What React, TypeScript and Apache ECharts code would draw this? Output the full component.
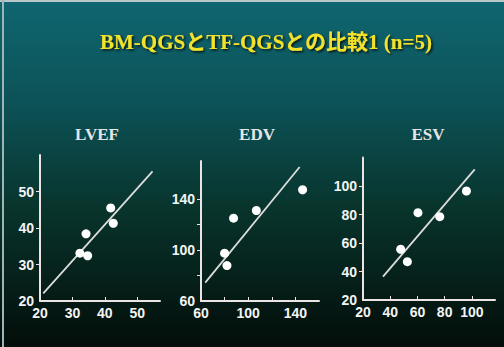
import React, { useEffect, useRef } from "react";
import * as echarts from "echarts";

const mainTitle = "BM-QGSとTF-QGSとの比較1 (n=5)";
const panelTitles = ["LVEF", "EDV", "ESV"];

// LVEF
const lvefX = [41.8, 42.6, 34.2, 32.3, 34.7];
const lvefY = [45.5, 41.3, 38.4, 33.1, 32.4];
const lvefLineX = [21, 54.7];
const lvefLineY = [22.1, 55.5];
const lvefXLabels = [20, 30, 40, 50];
const lvefXTicks = [30, 40, 50];
const lvefYLabels = [20, 30, 40, 50];
const lvefYTicks = [30, 40, 50];

// EDV
const edvX = [87.6, 106.9, 146.1, 80.0, 82.0];
const edvY = [125.1, 131.1, 147.4, 97.6, 87.8];
const edvLineX = [63.6, 143.6];
const edvLineY = [74.4, 165.3];
const edvXLabels = [60, 100, 140];
const edvXTicks = [80, 100, 120, 140];
const edvYLabels = [60, 100, 140];
const edvYTicks = [80, 100, 120, 140];

// ESV
const esvX = [60.4, 47.7, 52.6, 76.4, 96.0];
const esvY = [81.3, 55.6, 46.9, 78.5, 96.5];
const esvLineX = [34.7, 102.1];
const esvLineY = [36.4, 111.7];
const esvXLabels = [20, 40, 60, 80, 100];
const esvXTicks = [40, 60, 80, 100];
const esvYLabels = [20, 40, 60, 80, 100];
const esvYTicks = [40, 60, 80, 100];

const LABEL_FONT = "'Liberation Sans Narrow', 'Liberation Sans', sans-serif";
const AXIS_COLOR = "#ece4e4";

function zip(a: number[], b: number[]) {
  return a.map((v, i) => [v, b[i]]);
}

export default function App() {
  const ref = useRef<HTMLDivElement>(null);
  useEffect(() => {
    document.body.style.margin = "0";
    if (!ref.current) return;
    const chart = echarts.init(ref.current, null, { renderer: "svg" });

    const grids = [
      { left: 40, top: 155, width: 120, height: 146 },
      { left: 201, top: 161, width: 118, height: 140 },
      { left: 363, top: 157.5, width: 132, height: 142.5 },
    ];
    const ranges = [
      { xmin: 20, xmax: 57, ymin: 20, ymax: 60, xl: lvefXLabels, xt: lvefXTicks, yl: lvefYLabels, yt: lvefYTicks },
      { xmin: 60, xmax: 160, ymin: 60, ymax: 170, xl: edvXLabels, xt: edvXTicks, yl: edvYLabels, yt: edvYTicks },
      { xmin: 20, xmax: 117, ymin: 20, ymax: 120, xl: esvXLabels, xt: esvXTicks, yl: esvYLabels, yt: esvYTicks },
    ];
    const labelStyle = {
      color: "#f4f4f4",
      fontFamily: LABEL_FONT,
      fontWeight: "bold" as const,
      fontSize: 14,
    };
    const xAxes = ranges.map((r, i) => ({
      type: "value",
      gridIndex: i,
      min: r.xmin,
      max: r.xmax,
      splitLine: { show: false },
      axisLine: { show: true, lineStyle: { color: AXIS_COLOR, width: 2 } },
      axisTick: { show: true, inside: true, length: 4, customValues: r.xt, lineStyle: { color: AXIS_COLOR, width: 1 } },
      axisLabel: { ...labelStyle, margin: 5, customValues: r.xl },
    }));
    const yAxes = ranges.map((r, i) => ({
      type: "value",
      gridIndex: i,
      min: r.ymin,
      max: r.ymax,
      splitLine: { show: false },
      axisLine: { show: true, lineStyle: { color: AXIS_COLOR, width: 2 } },
      axisTick: { show: true, length: 4, customValues: r.yt, lineStyle: { color: AXIS_COLOR, width: 1 } },
      axisLabel: { ...labelStyle, margin: 6, customValues: r.yl },
    }));

    const pts = [zip(lvefX, lvefY), zip(edvX, edvY), zip(esvX, esvY)];
    const lines = [zip(lvefLineX, lvefLineY), zip(edvLineX, edvLineY), zip(esvLineX, esvLineY)];
    const series: any[] = [];
    for (let i = 0; i < 3; i++) {
      series.push({
        type: "line",
        xAxisIndex: i,
        yAxisIndex: i,
        data: lines[i],
        showSymbol: false,
        symbol: "none",
        lineStyle: { color: "#dcdcdc", width: 1.8 },
        z: 2,
      });
      series.push({
        type: "scatter",
        xAxisIndex: i,
        yAxisIndex: i,
        data: pts[i],
        symbolSize: 9,
        itemStyle: { color: "#ffffff", opacity: 1 },
        z: 3,
      });
    }

    const titleCenters = [97, 257, 428];
    chart.setOption({
      animation: false,
      backgroundColor: {
        type: "linear",
        x: 0,
        y: 0,
        x2: 0,
        y2: 1,
        colorStops: [
          { offset: 0, color: "#0f6670" },
          { offset: 0.3, color: "#0c5257" },
          { offset: 0.6, color: "#08342c" },
          { offset: 1, color: "#030d09" },
        ],
      },
      grid: grids,
      xAxis: xAxes,
      yAxis: yAxes,
      series,
      graphic: [
        { type: "rect", shape: { x: 0, y: 0, width: 504, height: 2 }, style: { fill: "#b8c8c8" } },
        { type: "rect", shape: { x: 2, y: 0, width: 2, height: 347 }, style: { fill: "#9fb4b4" } },
        {
          type: "text",
          x: 266,
          y: 42,
          style: {
            text: mainTitle,
            fill: "#f4e22a",
            font: "bold 21px 'Liberation Serif', 'Noto Sans CJK JP', serif",
            align: "center",
            verticalAlign: "middle",
            textShadowColor: "rgba(0,0,0,0.8)",
            textShadowBlur: 2,
            textShadowOffsetX: 1.5,
            textShadowOffsetY: 1.5,
          },
        },
        ...panelTitles.map((t, i) => ({
          type: "text",
          x: titleCenters[i],
          y: 134,
          style: {
            text: t,
            fill: "#e6e6e6",
            font: "bold 17px 'Liberation Serif', serif",
            align: "center",
            verticalAlign: "middle",
          },
        })),
      ],
    });
    return () => chart.dispose();
  }, []);
  return <div ref={ref} style={{ width: 504, height: 347 }} />;
}
